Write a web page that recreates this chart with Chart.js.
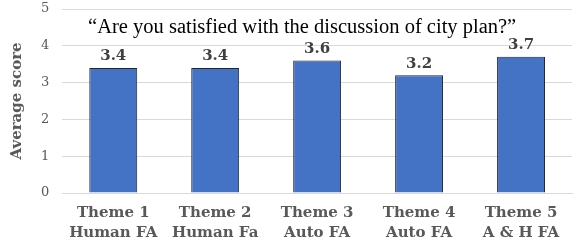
<!DOCTYPE html>
<html>
<head>
<meta charset="utf-8">
<script src="https://cdn.jsdelivr.net/npm/chart.js@4"></script>
<style>
  html, body { margin: 0; padding: 0; background: #fff; }
  #wrap { width: 576px; height: 241px; }
</style>
</head>
<body>
<div id="wrap"><canvas id="chart" width="576" height="241"></canvas></div>
<script>
const categories = [
  ["Theme 1", "Human FA"],
  ["Theme 2", "Human Fa"],
  ["Theme 3", "Auto FA"],
  ["Theme 4", "Auto FA"],
  ["Theme 5", "A & H FA"]
];
const scores = [3.4, 3.4, 3.6, 3.2, 3.7];
const yTicks = [0, 1, 2, 3, 4, 5];
const chartTitle = "\u201CAre you satisfied with the discussion of city plan?\u201D";

const serif = "'DejaVu Serif', 'Liberation Serif', serif";

// draws the value above each bar and the title inside the plot
const overlay = {
  id: "overlay",
  afterDatasetsDraw(chart) {
    const ctx = chart.ctx;
    const meta = chart.getDatasetMeta(0);
    ctx.save();
    ctx.fillStyle = "#404040";
    ctx.font = "bold 15px " + serif;
    ctx.textAlign = "center";
    ctx.textBaseline = "bottom";
    meta.data.forEach((bar, i) => {
      ctx.fillText(scores[i].toFixed(1), bar.x, bar.y - 4);
    });
    const area = chart.chartArea;
    ctx.fillStyle = "#000";
    ctx.font = "20.5px 'Liberation Serif', serif";
    ctx.textBaseline = "middle";
    ctx.fillText(chartTitle, (area.left + area.right) / 2 - 15, chart.scales.y.getPixelForValue(4.5));
    ctx.restore();
  }
};

new Chart(document.getElementById("chart").getContext("2d"), {
  type: "bar",
  data: {
    labels: categories,
    datasets: [{
      data: scores,
      backgroundColor: "#4472c4",
      borderColor: "#262626",
      borderWidth: 1,
      barPercentage: 0.47,
      categoryPercentage: 1
    }]
  },
  options: {
    responsive: false,
    animation: false,
    layout: { padding: { top: 9, right: 4, left: 8, bottom: 0 } },
    plugins: { legend: { display: false }, tooltip: { enabled: false } },
    scales: {
      x: {
        grid: { display: false, drawTicks: false },
        border: { color: "#d9d9d9" },
        afterFit(axis) { axis.height = 48; },
        ticks: {
          color: "#595959",
          font: { family: serif, size: 15, weight: "bold", lineHeight: 1.33 },
          maxRotation: 0,
          padding: 10
        }
      },
      y: {
        min: 0,
        max: 5,
        afterBuildTicks(axis) { axis.ticks = yTicks.map(v => ({ value: v })); },
        afterFit(axis) { axis.paddingTop = 0; axis.paddingBottom = 0; },
        grid: { color: "#d9d9d9", drawTicks: false },
        border: { display: false },
        ticks: {
          color: "#595959",
          font: { family: serif, size: 13 },
          padding: 13
        },
        title: {
          display: true,
          text: "Average score",
          color: "#595959",
          font: { family: serif, size: 15, weight: "bold" },
          padding: { top: 0, bottom: 2 }
        }
      }
    }
  },
  plugins: [overlay]
});
</script>
</body>
</html>
